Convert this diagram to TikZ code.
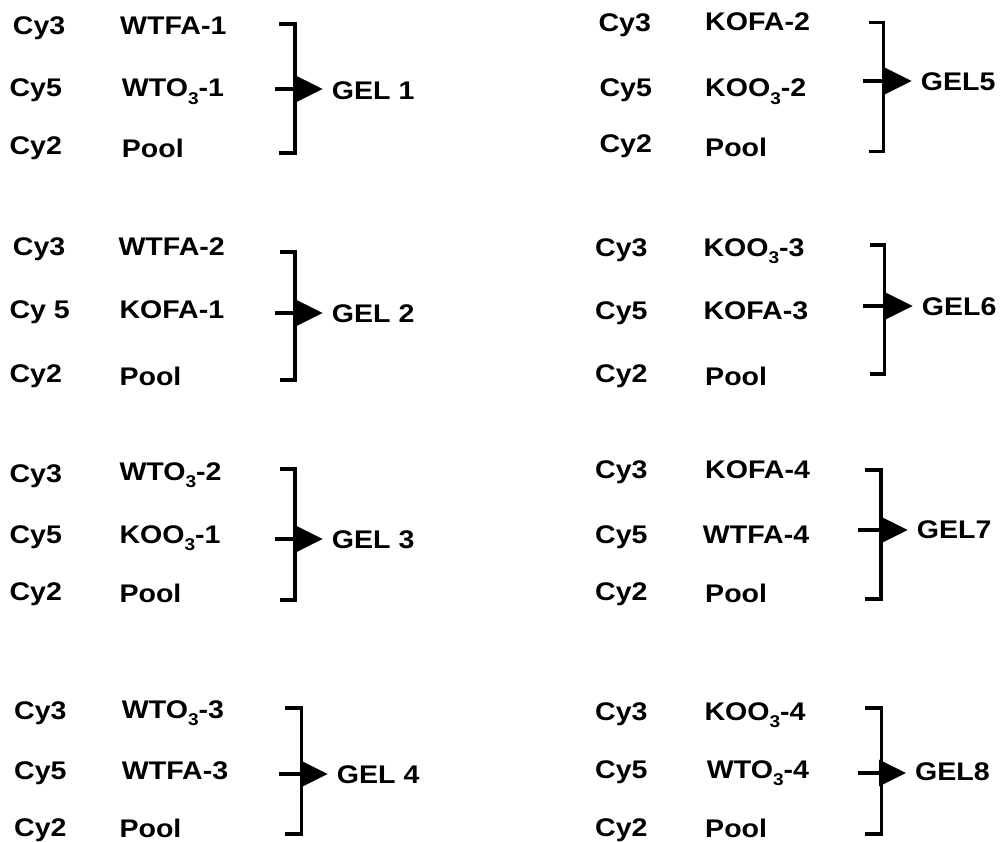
\documentclass[tikz,border=0pt]{standalone}
\usepackage{fontspec}
\setmainfont{Liberation Sans}[FakeStretch=1.12]
\usetikzlibrary{arrows.meta}
\newcommand{\sbt}[1]{\raisebox{-0.3em}{\fontsize{17}{17}\selectfont #1}}
\begin{document}
\begin{tikzpicture}[x=1pt,y=-1pt,
  lbl/.style={anchor=base west,inner sep=0pt,font=\bfseries\fontsize{25.5}{25.5}\selectfont},
  brk/.style={line width=3.4pt,black},
  arr/.style={line width=3.4pt,black,-{Triangle[length=27pt,width=26pt]},shorten >=9pt}]
\useasboundingbox (0,0) rectangle (1000,842);
% bracket macro: #1 gel node, #2 xv, #3 tick left, #4 top, #5 bottom, #6 mid y, #7 mid left
\newcommand{\gelbr}[7]{%
  \coordinate (#1t) at (#3,#4);
  \coordinate (#1tc) at (#2,#4);
  \coordinate (#1bc) at (#2,#5);
  \coordinate (#1b) at (#3,#5);
  \coordinate (#1m) at (#7,#6);
  \draw[brk] (#1t) -- (#1tc) -- (#1bc) -- (#1b);
  \draw[arr] (#1m) -- (#1m -| #1.west);
}
% ---------- GEL 1
\node[lbl] (a1) at (12.7,35) {Cy3};
\node[lbl] (b1) at (120,35) {WTFA-1};
\node[lbl] (a2) at (9.3,97) {Cy5};
\node[lbl] (b2) at (121.7,97) {WTO\sbt{3}-1};
\node[lbl] (a3) at (9.3,155) {Cy2};
\node[lbl] (b3) at (121.7,158) {Pool};
\node[lbl] (g1) at (331.7,99.5) {GEL 1};
\gelbr{g1}{295}{279}{24}{153}{89}{275}
% ---------- GEL 2
\node[lbl] (a4) at (12.7,255) {Cy3};
\node[lbl] (b4) at (118.3,255) {WTFA-2};
\node[lbl] (a5) at (9.3,318) {Cy 5};
\node[lbl] (b5) at (119.3,318) {KOFA-1};
\node[lbl] (a6) at (9.3,382) {Cy2};
\node[lbl] (b6) at (119.3,385) {Pool};
\node[lbl] (g2) at (331.7,322) {GEL 2};
\gelbr{g2}{295}{280}{252}{380}{313}{275}
% ---------- GEL 3
\node[lbl] (a7) at (9.3,482) {Cy3};
\node[lbl] (b7) at (119.3,480) {WTO\sbt{3}-2};
\node[lbl] (a8) at (9.3,543) {Cy5};
\node[lbl] (b8) at (119.3,543) {KOO\sbt{3}-1};
\node[lbl] (a9) at (9.3,600) {Cy2};
\node[lbl] (b9) at (119.3,602) {Pool};
\node[lbl] (g3) at (331.7,548) {GEL 3};
\gelbr{g3}{295}{280}{469}{600}{539}{275}
% ---------- GEL 4
\node[lbl] (a10) at (14,719) {Cy3};
\node[lbl] (b10) at (121.7,718) {WTO\sbt{3}-3};
\node[lbl] (a11) at (14,779) {Cy5};
\node[lbl] (b11) at (121.7,779) {WTFA-3};
\node[lbl] (a12) at (14,836) {Cy2};
\node[lbl] (b12) at (119.3,837) {Pool};
\node[lbl] (g4) at (336.7,783) {GEL 4};
\gelbr{g4}{301.7}{285}{708}{834}{774}{279.3}
% ---------- GEL5
\node[lbl] (a13) at (598.3,32) {Cy3};
\node[lbl] (b13) at (705,31) {KOFA-2};
\node[lbl] (a14) at (599.3,97) {Cy5};
\node[lbl] (b14) at (705,97) {KOO\sbt{3}-2};
\node[lbl] (a15) at (599.3,153) {Cy2};
\node[lbl] (b15) at (705,157) {Pool};
\node[lbl] (g5) at (920.7,91) {GEL5};
\gelbr{g5}{883.3}{869.3}{22.3}{151.7}{81}{863.3}
% ---------- GEL6
\node[lbl] (a16) at (595,256) {Cy3};
\node[lbl] (b16) at (703.3,256) {KOO\sbt{3}-3};
\node[lbl] (a17) at (595,319) {Cy5};
\node[lbl] (b17) at (703.3,319) {KOFA-3};
\node[lbl] (a18) at (595,382) {Cy2};
\node[lbl] (b18) at (705,385) {Pool};
\node[lbl] (g6) at (921.7,315) {GEL6};
\gelbr{g6}{884.3}{870}{245}{374}{306}{863.3}
% ---------- GEL7
\node[lbl] (a19) at (595,478) {Cy3};
\node[lbl] (b19) at (705,478) {KOFA-4};
\node[lbl] (a20) at (595,543) {Cy5};
\node[lbl] (b20) at (702.7,543) {WTFA-4};
\node[lbl] (a21) at (595,600) {Cy2};
\node[lbl] (b21) at (705,602) {Pool};
\node[lbl] (g7) at (916.7,538) {GEL7};
\gelbr{g7}{881}{865}{470}{599}{530}{858.3}
% ---------- GEL8
\node[lbl] (a22) at (595,720) {Cy3};
\node[lbl] (b22) at (704.3,720) {KOO\sbt{3}-4};
\node[lbl] (a23) at (595,778) {Cy5};
\node[lbl] (b23) at (706.7,778) {WTO\sbt{3}-4};
\node[lbl] (a24) at (595,836) {Cy2};
\node[lbl] (b24) at (705,837) {Pool};
\node[lbl] (g8) at (915,780) {GEL8};
\gelbr{g8}{881.7}{865}{708}{834}{773}{858.3}
\end{tikzpicture}
\end{document}
